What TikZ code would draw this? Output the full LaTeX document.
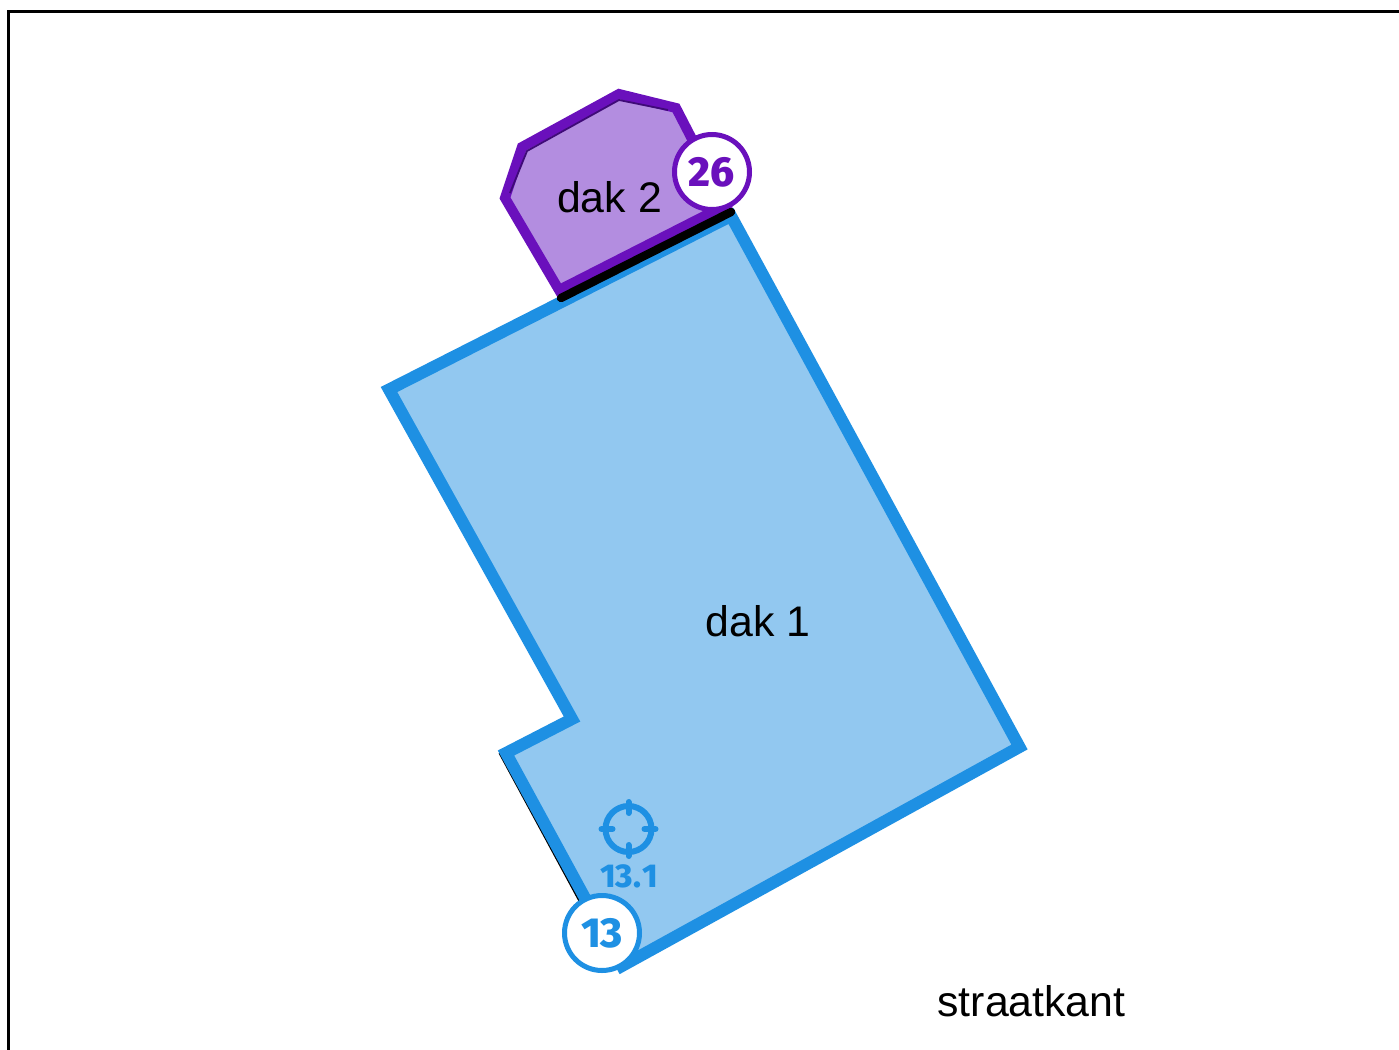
\documentclass[tikz,border=0pt]{standalone}
\usepackage{fontspec}
\setmainfont{Liberation Sans}
\newfontfamily\badgefont{Fira Sans}[UprightFont=* ExtraBold]
\definecolor{roofblue}{HTML}{1E90E3}
\definecolor{roofbluefill}{HTML}{92C8F0}
\definecolor{roofpurple}{HTML}{6A10BC}
\definecolor{roofpurplefill}{HTML}{B38DE0}
\definecolor{roofshadow}{HTML}{3F0A78}
\begin{document}
\begin{tikzpicture}[x=0.5pt,y=-0.5pt,
		every node/.style = {inner sep=0pt, align=center},
		rooflabel/.style = {font=\fontsize{21.4}{25}\selectfont},
		badge/.style = {shape=circle, draw=#1, fill=white, line width=2.5pt, minimum size=37.5pt, text=#1,
			font=\badgefont\fontsize{21}{24}\selectfont}]
	\useasboundingbox (0,0) rectangle (1399,1050);
	\draw[black, line width=1.5pt, line cap=rect] (8.5,1060) -- (8.5,11.5) -- (1410,11.5);
	% dak 1
	\draw[black, line width=1pt] (499.5,753) -- (580,902);
	\draw[roofblue, fill=roofbluefill, line width=6pt, miter limit=10]
		(389,389.5) -- (731,216) -- (1019.5,747) -- (622,966) -- (506,753) -- (572,719) -- cycle;
	% dak 2
	\draw[roofpurple, fill=roofpurplefill, line width=5pt, miter limit=10]
		(522,147) -- (619,94) -- (676,108) -- (726,205) -- (559,290) -- (505,198) -- cycle;
	\draw[roofshadow, line width=.9pt] (510,193) -- (527,151) -- (619,100) -- (668,110);
	\draw[black, line width=4.2pt, line cap=round] (561,298) -- (731,212);
	\node[rooflabel] (dak2) at (609.5,197) {dak 2};
	\node[rooflabel] (dak1) at (758,621) {dak 1};
	\node[rooflabel] (street) at (1031.5,1001) {straatkant};
	\node[badge=roofpurple] (badge26) at (712,172) {26};
	\node[badge=roofblue] (badge13) at (602,933) {13};
	% meetpunt
	\draw[roofblue, line width=3pt] (628.5,829) circle (11.5pt);
	\foreach \a in {0,90,180,270}
		\draw[roofblue, line width=3pt, line cap=round] (628.5,829) ++(\a:16) -- ++(\a:11);
	\node[text=roofblue, font=\badgefont\fontsize{16.5}{19}\selectfont] (point) at (629,876) {13.\kern.5pt 1};
\end{tikzpicture}
\end{document}
